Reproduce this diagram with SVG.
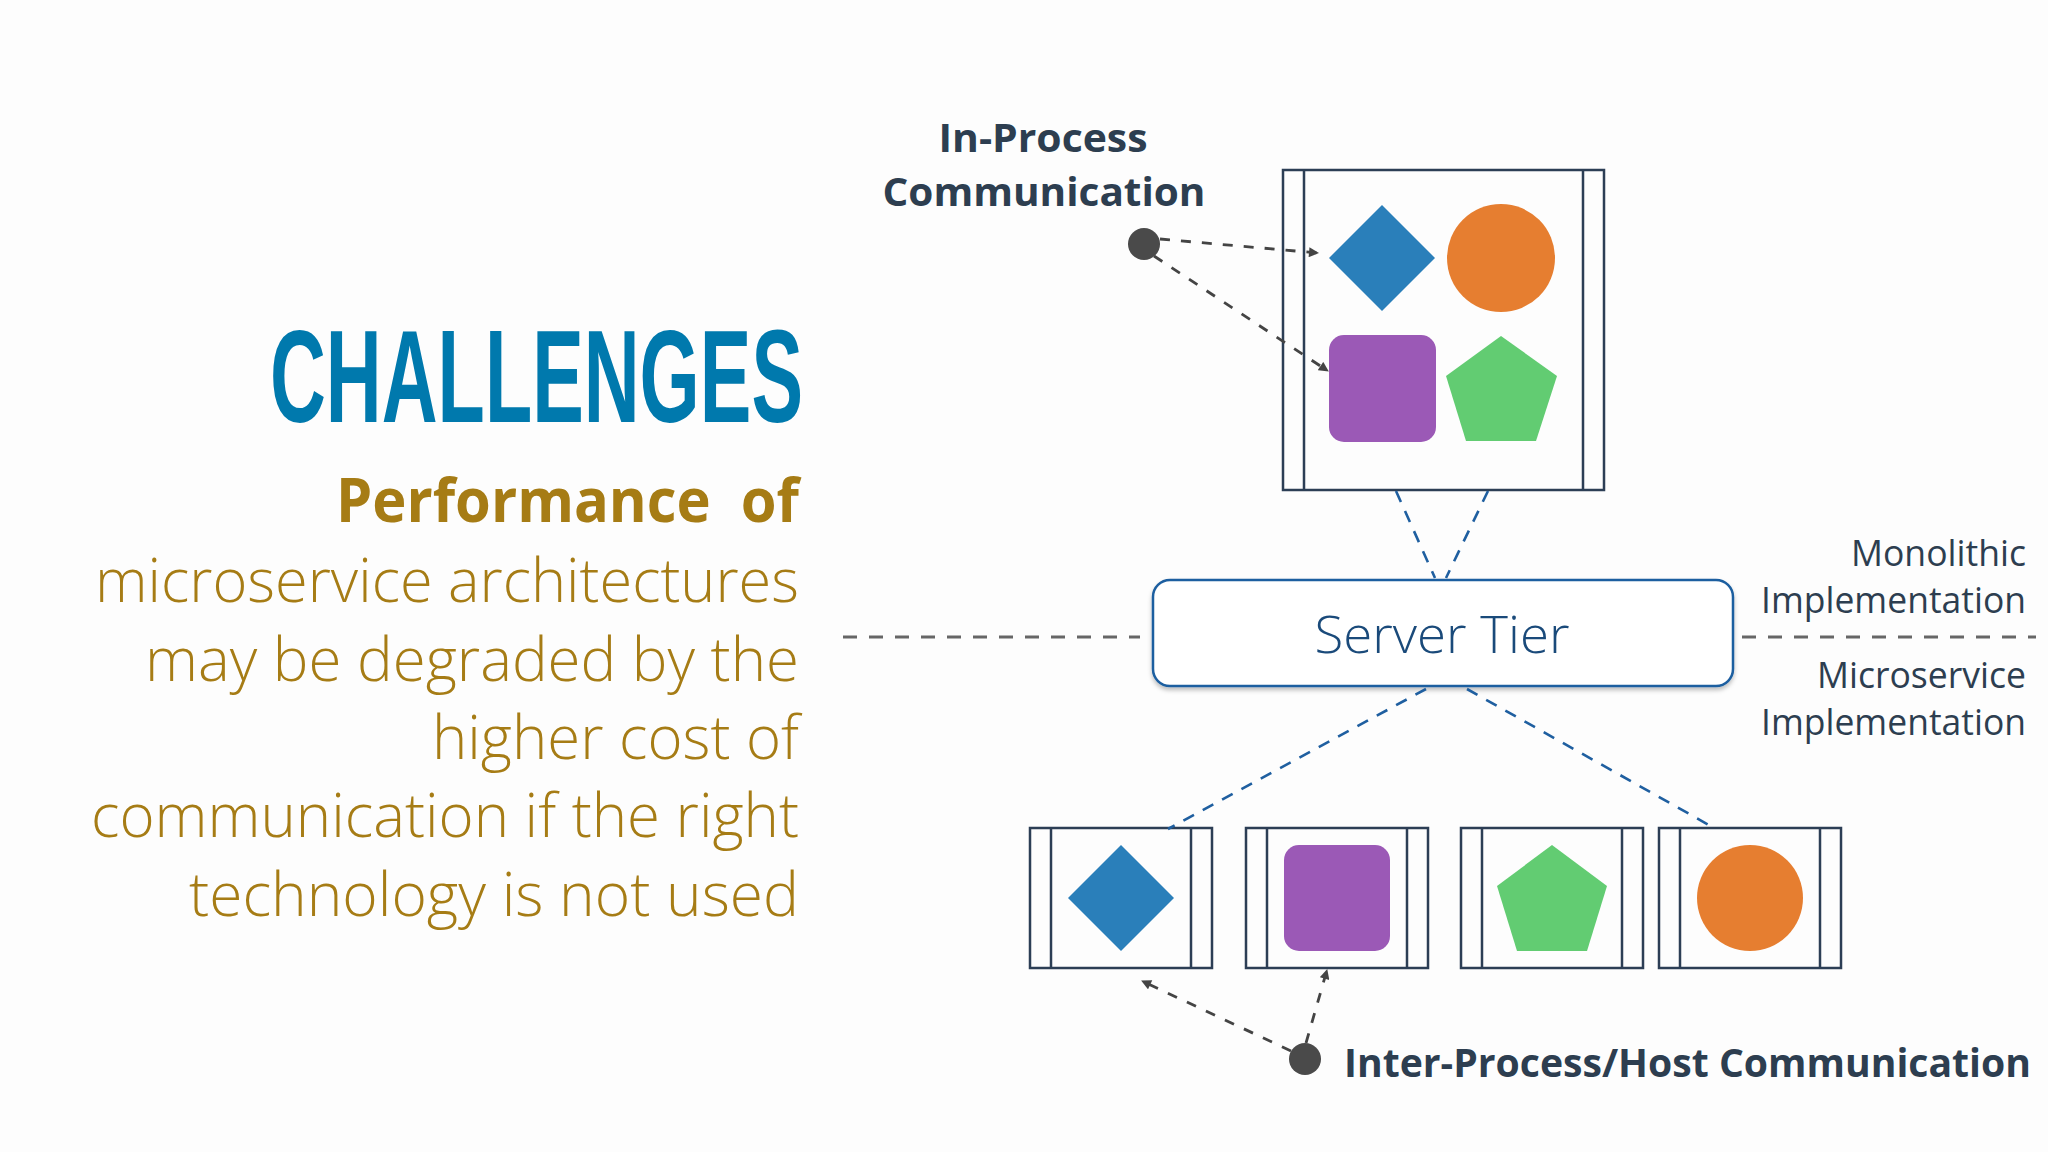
<svg xmlns="http://www.w3.org/2000/svg" width="2048" height="1152" viewBox="0 0 2048 1152">
<style>
.frame{fill:none;stroke:#2c3e55;stroke-width:2.5}
.lbl{font-family:"Open Sans","Noto Sans","Liberation Sans",sans-serif;fill:#2d3e50}
.body{font-family:"Open Sans","Noto Sans","Liberation Sans",sans-serif;fill:#a67c15;font-weight:300;font-size:60px}
.blue{fill:#2a7fba}.orange{fill:#e67e30}.purple{fill:#9b59b6}.green{fill:#62cc72}
.tier{stroke:#1f5fa0;stroke-width:2.6;stroke-dasharray:12 10;fill:none}
.arr{stroke:#444;stroke-width:2.8;stroke-dasharray:10 11;fill:none}
.sep{stroke:#666;stroke-width:3;stroke-dasharray:14 12;fill:none}
</style>
<defs>
<marker id="ah" viewBox="0 0 10 10" refX="9" refY="5" markerUnits="userSpaceOnUse" markerWidth="11" markerHeight="10" orient="auto">
<path d="M0,0 L10,5 L0,10 z" fill="#444"/>
</marker>
<filter id="sh" x="-5%" y="-10%" width="110%" height="130%">
<feDropShadow dx="0" dy="3" stdDeviation="2" flood-color="#000" flood-opacity="0.25"/>
</filter>
</defs>
<rect width="2048" height="1152" fill="#fdfdfd"/>

<g id="title">
<text x="803" y="422" font-family="'Liberation Sans',sans-serif" font-weight="700" font-size="132" fill="#0079ad" text-anchor="end" textLength="533" lengthAdjust="spacingAndGlyphs">CHALLENGES</text>
</g>
<g id="description">
<text x="799" y="522" font-family="'Open Sans','Noto Sans',sans-serif" font-weight="700" font-size="60" fill="#a67c15" text-anchor="end" textLength="463" lengthAdjust="spacingAndGlyphs" xml:space="preserve">Performance  of</text>
<text class="body" x="799" y="602" text-anchor="end" textLength="704" lengthAdjust="spacingAndGlyphs">microservice architectures</text>
<text class="body" x="799" y="681" text-anchor="end" textLength="654" lengthAdjust="spacingAndGlyphs">may be degraded by the</text>
<text class="body" x="799" y="759" text-anchor="end" textLength="367" lengthAdjust="spacingAndGlyphs">higher cost of</text>
<text class="body" x="799" y="837" text-anchor="end" textLength="708" lengthAdjust="spacingAndGlyphs">communication if the right</text>
<text class="body" x="799" y="916" text-anchor="end" textLength="610" lengthAdjust="spacingAndGlyphs">technology is not used</text>
</g>

<g id="monolith">
<rect class="frame" x="1283" y="170" width="321" height="320"/>
<line x1="1304" y1="170" x2="1304" y2="490" stroke="#2c3e55" stroke-width="2.5"/>
<line x1="1583" y1="170" x2="1583" y2="490" stroke="#2c3e55" stroke-width="2.5"/>
<polygon class="blue" points="1382,205 1435,258 1382,311 1329,258"/>
<circle class="orange" cx="1501" cy="258" r="54"/>
<rect class="purple" x="1329" y="335" width="107" height="107" rx="15"/>
<polygon class="green" points="1501,336 1557,376 1536,441 1466,441 1446,376"/>
</g>

<g id="server-tier">
<rect x="1153" y="580" width="580" height="106" rx="17" fill="#fff" stroke="#1f5fa0" stroke-width="2.5" filter="url(#sh)"/>
<text x="1442" y="653" font-family="'Open Sans','Noto Sans',sans-serif" font-weight="300" font-size="52" fill="#1a4a7a" text-anchor="middle" textLength="255" lengthAdjust="spacingAndGlyphs">Server Tier</text>
</g>

<g id="service-diamond">
<rect class="frame" x="1030" y="828" width="182" height="140"/>
<line x1="1051" y1="828" x2="1051" y2="968" stroke="#2c3e55" stroke-width="2.5"/>
<line x1="1191" y1="828" x2="1191" y2="968" stroke="#2c3e55" stroke-width="2.5"/>
<polygon class="blue" points="1121,845 1174,898 1121,951 1068,898"/>
</g>
<g id="service-square">
<rect class="frame" x="1246" y="828" width="182" height="140"/>
<line x1="1267" y1="828" x2="1267" y2="968" stroke="#2c3e55" stroke-width="2.5"/>
<line x1="1407" y1="828" x2="1407" y2="968" stroke="#2c3e55" stroke-width="2.5"/>
<rect class="purple" x="1284" y="845" width="106" height="106" rx="15"/>
</g>
<g id="service-pentagon">
<rect class="frame" x="1461" y="828" width="182" height="140"/>
<line x1="1482" y1="828" x2="1482" y2="968" stroke="#2c3e55" stroke-width="2.5"/>
<line x1="1622" y1="828" x2="1622" y2="968" stroke="#2c3e55" stroke-width="2.5"/>
<polygon class="green" points="1552,845 1607,886 1587,951 1517,951 1497,886"/>
</g>
<g id="service-circle">
<rect class="frame" x="1659" y="828" width="182" height="140"/>
<line x1="1680" y1="828" x2="1680" y2="968" stroke="#2c3e55" stroke-width="2.5"/>
<line x1="1820" y1="828" x2="1820" y2="968" stroke="#2c3e55" stroke-width="2.5"/>
<circle class="orange" cx="1750" cy="898" r="53"/>
</g>

<g id="connectors">
<line class="sep" x1="843" y1="637" x2="1140" y2="637"/>
<line class="sep" x1="1742" y1="637" x2="2036" y2="637"/>
<line class="tier" x1="1396" y1="491" x2="1435" y2="578"/>
<line class="tier" x1="1488" y1="491" x2="1446" y2="578"/>
<line class="tier" x1="1426" y1="689" x2="1168" y2="829"/>
<line class="tier" x1="1467" y1="689" x2="1716" y2="829"/>
<line class="arr" x1="1160" y1="239" x2="1318" y2="253" marker-end="url(#ah)"/>
<line class="arr" x1="1154" y1="256" x2="1328" y2="371" marker-end="url(#ah)"/>
<line class="arr" x1="1291" y1="1051" x2="1142" y2="981" marker-end="url(#ah)"/>
<line class="arr" x1="1306" y1="1043" x2="1327" y2="970" marker-end="url(#ah)"/>
</g>

<g id="in-process-label">
<text class="lbl" x="1043" y="152" font-weight="700" font-size="40" text-anchor="middle" textLength="209" lengthAdjust="spacingAndGlyphs">In-Process</text>
<text class="lbl" x="1044" y="206" font-weight="700" font-size="40" text-anchor="middle" textLength="323" lengthAdjust="spacingAndGlyphs">Communication</text>
<circle cx="1144" cy="244" r="16" fill="#4a4a4a"/>
</g>

<g id="side-labels">
<text class="lbl" x="2026" y="566" font-size="36" text-anchor="end" textLength="175" lengthAdjust="spacingAndGlyphs">Monolithic</text>
<text class="lbl" x="2026" y="613" font-size="36" text-anchor="end" textLength="265" lengthAdjust="spacingAndGlyphs">Implementation</text>
<text class="lbl" x="2026" y="688" font-size="36" text-anchor="end" textLength="209" lengthAdjust="spacingAndGlyphs">Microservice</text>
<text class="lbl" x="2026" y="735" font-size="36" text-anchor="end" textLength="265" lengthAdjust="spacingAndGlyphs">Implementation</text>
</g>

<g id="inter-process-label">
<circle cx="1305" cy="1059" r="16" fill="#4a4a4a"/>
<text class="lbl" x="1344" y="1077" font-weight="700" font-size="40" textLength="687" lengthAdjust="spacingAndGlyphs">Inter-Process/Host Communication</text>
</g>
</svg>
